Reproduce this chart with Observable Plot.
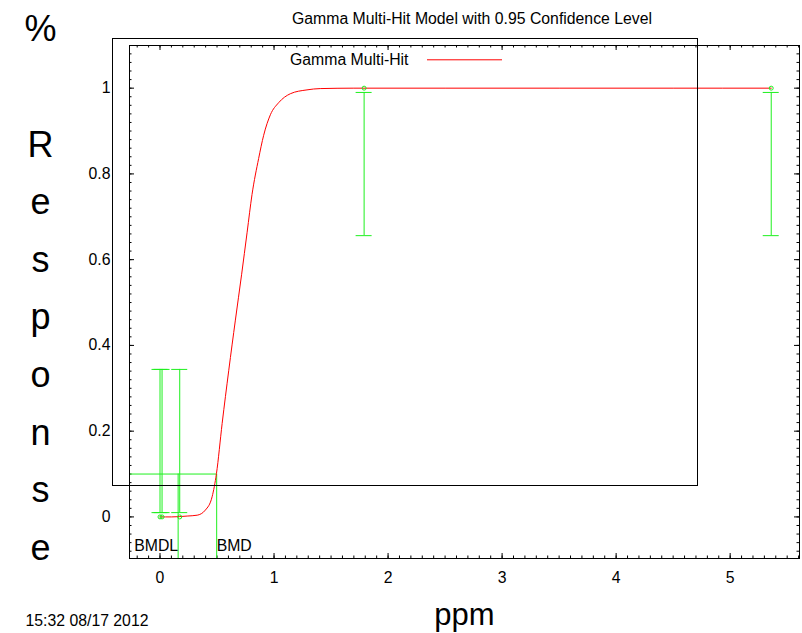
<!DOCTYPE html>
<html><head><meta charset="utf-8">
<script src="https://cdn.jsdelivr.net/npm/d3@7"></script>
<script src="https://cdn.jsdelivr.net/npm/@observablehq/plot@0.6"></script>
<style>body{margin:0;background:#fff}</style>
</head><body><div id="chart"></div>
<script>
// ---- data ----
const doses     = [0, 0.018, 0.173, 1.79, 5.36];
const responses = [0, 0, 0, 1, 1];
const lowerCI   = [0.010, 0.010, 0.010, 0.656, 0.656];
const upperCI   = [0.344, 0.344, 0.344, 0.990, 0.990];
const curveDose = [0, 0.1, 0.238, 0.326, 0.398, 0.457, 0.495, 0.545, 0.603, 0.661, 0.716, 0.764, 0.807, 0.865, 0.909, 0.968, 1.040, 1.143, 1.289, 1.405, 1.7, 2.5, 3.5, 4.5, 5.36];
const curveResp = [0, 0, 0.002, 0.004, 0.016, 0.047, 0.101, 0.218, 0.342, 0.459, 0.566, 0.664, 0.752, 0.836, 0.890, 0.938, 0.966, 0.987, 0.996, 0.999, 1, 1, 1, 1, 1];
const bmr = 0.1, bmd = 0.497, bmdl = 0.159;
const xTickValues = [0, 1, 2, 3, 4, 5];
const xTickLabels = ["0", "1", "2", "3", "4", "5"];
const yTickValues = [0, 0.2, 0.4, 0.6, 0.8, 1];
const yTickLabels = ["0", "0.2", "0.4", "0.6", "0.8", "1"];
const titleText = "Gamma Multi-Hit Model with 0.95 Confidence Level";
const xLabel = "ppm";
const yLabel = "% Response";
const legendLabel = "Gamma Multi-Hit";
const stamp = "15:32 08/17 2012";

// ---- layout ----
const W = 802, H = 633, mL = 129, mR = 3, mT = 45, mB = 75;
const xMin = -0.2675, xMax = 5.608, yMin = -0.097, yMax = 1.0995;
const pxX = (xMax - xMin) / (W - mL - mR);
const pxY = (yMax - yMin) / (H - mT - mB);
const green = "#1ef01e";

const points = doses.map((d, i) => ({dose: d, resp: responses[i], lo: lowerCI[i], hi: upperCI[i]}));
const curve = curveDose.map((d, i) => ({dose: d, resp: curveResp[i]}));

const xMinor = d3.range(-2, 57).map(k => k / 10).filter(v => v > xMin && v < xMax);
const yMinor = d3.range(-4, 55).map(k => k / 50).filter(v => v > yMin && v < yMax);

const font = "'Liberation Sans', Arial, Helvetica, sans-serif";
const fs = 15.8;

const chart = Plot.plot({
  width: W, height: H,
  marginLeft: mL, marginRight: mR, marginTop: mT, marginBottom: mB,
  x: {domain: [xMin, xMax], axis: null},
  y: {domain: [yMin, yMax], axis: null},
  style: {fontFamily: font, fontSize: fs + "px", background: "#fff", color: "#000"},
  marks: [
    // minor / major ticks, all four sides, inward
    Plot.ruleX(xMinor, {x: d => d, y1: yMin, y2: yMin + 2.5 * pxY, stroke: "#000"}),
    Plot.ruleX(xMinor, {x: d => d, y1: yMax, y2: yMax - 2.5 * pxY, stroke: "#000"}),
    Plot.ruleX(xTickValues, {x: d => d, y1: yMin, y2: yMin + 5 * pxY, stroke: "#000"}),
    Plot.ruleX(xTickValues, {x: d => d, y1: yMax, y2: yMax - 5 * pxY, stroke: "#000"}),
    Plot.ruleY(yMinor, {y: d => d, x1: xMin, x2: xMin + 2.5 * pxX, stroke: "#000"}),
    Plot.ruleY(yMinor, {y: d => d, x1: xMax, x2: xMax - 2.5 * pxX, stroke: "#000"}),
    Plot.ruleY(yTickValues, {y: d => d, x1: xMin, x2: xMin + 5 * pxX, stroke: "#000"}),
    Plot.ruleY(yTickValues, {y: d => d, x1: xMax, x2: xMax - 5 * pxX, stroke: "#000"}),
    // tick labels
    Plot.text(xTickValues, {x: d => d, y: yMin, text: (d, i) => xTickLabels[i], dy: 19, lineAnchor: "middle", fill: "#000", fontSize: fs}),
    Plot.text(yTickValues, {x: xMin, y: d => d, text: (d, i) => yTickLabels[i], dx: -19, textAnchor: "end", lineAnchor: "middle", fill: "#000", fontSize: fs}),
    // BMD lines
    Plot.ruleY([bmr], {y: d => d, x1: xMin, x2: bmd, stroke: green}),
    Plot.ruleX([bmd], {x: d => d, y1: yMin, y2: bmr, stroke: green}),
    Plot.ruleX([bmdl], {x: d => d, y1: yMin, y2: bmr, stroke: green}),
    Plot.text([bmdl], {x: d => d, y: yMin, text: () => "BMDL", textAnchor: "end", lineAnchor: "middle", dy: -12.5, fill: "#000", fontSize: fs}),
    Plot.text([bmd], {x: d => d, y: yMin, text: () => "BMD", textAnchor: "start", lineAnchor: "middle", dy: -12.5, fill: "#000", fontSize: fs}),
    // model curve
    Plot.line(curve, {x: "dose", y: "resp", stroke: "#ff0000", strokeWidth: 1, curve: "monotone-x"}),
    // error bars
    Plot.ruleX(points, {x: "dose", y1: "lo", y2: "hi", stroke: green}),
    Plot.ruleY(points, {y: "hi", x1: d => d.dose - 8 * pxX, x2: d => d.dose + 8 * pxX, stroke: green}),
    Plot.ruleY(points, {y: "lo", x1: d => d.dose - 8 * pxX, x2: d => d.dose + 8 * pxX, stroke: green}),
    Plot.dot(points, {x: "dose", y: "resp", r: 2, stroke: green, fill: "none", strokeWidth: 1}),
    // legend
    Plot.text([legendLabel], {frameAnchor: "top-left", text: d => d, dx: 279, dy: 14.5, textAnchor: "end", lineAnchor: "middle", fill: "#000", fontSize: fs}),
    Plot.ruleY([yMax], {y: d => d, dy: 14.3, insetLeft: 298, insetRight: 297, stroke: "#ff0000"}),
    // key box
    Plot.frame({stroke: "#000", insetLeft: -17, insetRight: 102, insetTop: -7, insetBottom: 73}),
    Plot.frame({stroke: "#000"}),
    // titles
    Plot.text([titleText], {frameAnchor: "top", text: d => d, dx: 7.5, dy: -27, lineAnchor: "middle", fill: "#000", fontSize: fs}),
    Plot.text([xLabel], {frameAnchor: "bottom", text: d => d, dy: 57, lineAnchor: "middle", fontSize: 31, fill: "#000"}),
    Plot.text([yLabel.split("").join("\n")], {frameAnchor: "top-left", text: d => d, dx: -89, dy: -45, lineAnchor: "top", lineHeight: 1.6, fontSize: 36, textAnchor: "middle", fill: "#000"}),
    Plot.text([stamp], {frameAnchor: "bottom-left", text: d => d, dx: -104, dy: 62, textAnchor: "start", lineAnchor: "middle", fill: "#000", fontSize: fs})
  ]
});
document.getElementById("chart").appendChild(chart);
</script>
</body></html>
